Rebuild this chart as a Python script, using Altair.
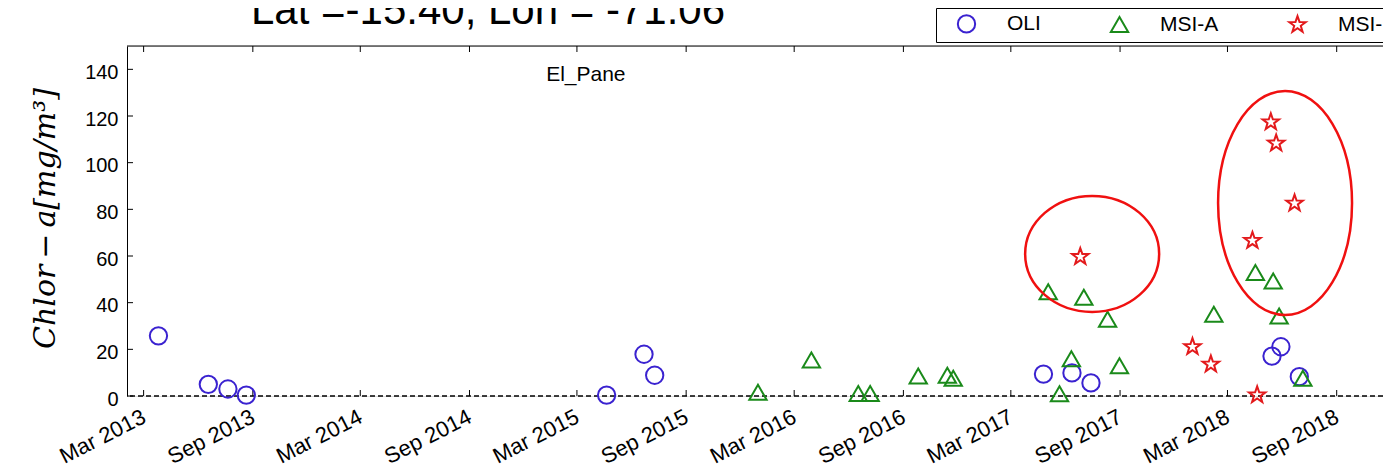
import math
import altair as alt
import pandas as pd

# ---------------- data ----------------
oli_dates = ["2013-03-26", "2013-06-18", "2013-07-21", "2013-08-21", "2015-04-20",
             "2015-06-22", "2015-07-10", "2017-04-25", "2017-06-12", "2017-07-14",
             "2018-05-15", "2018-05-30", "2018-06-30"]
oli_vals = [25.8, 5.0, 3.0, 0.4, 0.4, 17.9, 8.9, 9.4, 9.9, 5.6, 17.1, 21.1, 8.3]

msia_dates = ["2015-12-31", "2016-03-30", "2016-06-17", "2016-07-07", "2016-09-26",
              "2016-11-14", "2016-11-24", "2017-05-03", "2017-05-22", "2017-06-11",
              "2017-07-02", "2017-08-11", "2017-08-31", "2018-02-06", "2018-04-17",
              "2018-05-17", "2018-05-27", "2018-07-06"]
msia_vals = [1.6, 15.4, 1.1, 1.1, 8.6, 8.9, 7.6, 44.7, 1.0, 16.0, 42.3, 32.9, 13.0,
             35.0, 52.9, 49.3, 34.3, 7.6]

msib_dates = ["2017-06-26", "2018-01-01", "2018-02-01", "2018-04-12", "2018-04-20",
              "2018-05-13", "2018-05-22", "2018-06-22"]
msib_vals = [59.7, 21.1, 13.6, 66.6, 0.4, 117.4, 108.3, 82.6]

series_names = ["OLI", "MSI-A", "MSI-B"]
series_colors = ["#3a22d0", "#1a8a1a", "#e31a1c"]

x_tick_dates = ["2013-03-01", "2013-09-01", "2014-03-01", "2014-09-01", "2015-03-01",
                "2015-09-01", "2016-03-01", "2016-09-01", "2017-03-01", "2017-09-01",
                "2018-03-01", "2018-09-01"]
y_tick_vals = [0, 20, 40, 60, 80, 100, 120, 140]

site_label = ["El_Pane"]
site_label_date = ["2015-03-16"]
site_label_val = [137.6]

title_text = ["Lat =-15.40, Lon = -71.06"]

# highlighted clusters (red ellipses): centre date / value
ell1_date, ell1_val = ["2017-07-16"], [60.9]
ell2_date, ell2_val = ["2018-06-06"], [82.7]

# ---------------- shapes ----------------
pts = []
for k in range(10):
    r = 1.0 if k % 2 == 0 else 0.4
    a = math.radians(-90 + 36 * k)
    pts.append(f"{r * math.cos(a):.3f},{r * math.sin(a):.3f}")
star_path = "M" + " L".join(pts) + " Z"


def ellipse_path(rx, ry):
    return (f"M {-rx},0 A {rx} {ry} 0 1 0 {rx},0 "
            f"A {rx} {ry} 0 1 0 {-rx},0 Z")


# ---------------- tables ----------------
pts_df = pd.DataFrame({
    "date": oli_dates + msia_dates + msib_dates,
    "value": oli_vals + msia_vals + msib_vals,
    "sensor": ["OLI"] * len(oli_dates) + ["MSI-A"] * len(msia_dates)
              + ["MSI-B"] * len(msib_dates),
})
xt_df = pd.DataFrame({"date": x_tick_dates})
yt_df = pd.DataFrame({"value": y_tick_vals})
zero_df = pd.DataFrame({"value": [0]})
lab_df = pd.DataFrame({"date": site_label_date, "value": site_label_val, "txt": site_label})
title_df = pd.DataFrame({"txt": title_text})
e1_df = pd.DataFrame({"date": ell1_date, "value": ell1_val})
e2_df = pd.DataFrame({"date": ell2_date, "value": ell2_val})

W, H = 1256, 350
FONT = "Liberation Sans"

xscale = alt.Scale(type="utc",
                   domain=[alt.DateTime(year=2013, month=2, date=1, utc=True),
                           alt.DateTime(year=2018, month=11, date=18, utc=True)])
xaxis = alt.Axis(
    values=[alt.DateTime(year=int(d[:4]), month=int(d[5:7]), date=1, utc=True)
            for d in x_tick_dates],
    format="%b %Y", labelAngle=-27, labelAlign="right", labelBaseline="middle",
    labelFontSize=22, labelFont=FONT, labelColor="black", labelPadding=19,
    domain=False, ticks=False, grid=False, title=None)
X = alt.X("date:T", scale=xscale, axis=xaxis)

yscale = alt.Scale(domain=[0, 150], nice=False, zero=False)
yaxis = alt.Axis(
    values=y_tick_vals, labelFontSize=20, labelFont=FONT, labelColor="black",
    labelPadding=9, labelOffset=3, ticks=False, grid=False, domain=True,
    domainColor="black", domainWidth=1,
    title="Chlor\u2009−\u2009a[mg/m³]", titleFont="DejaVu Serif", titleFontStyle="italic",
    titleFontWeight="normal", titleFontSize=30, titleColor="black",
    titleX=-82, titleY=172, titleBaseline="middle", titleAlign="center", titleAngle=270)
Y = alt.Y("value:Q", scale=yscale, axis=yaxis)

legend = alt.Legend(
    orient="none", legendX=809, legendY=-38, direction="horizontal", title=None,
    strokeColor="black", fillColor="white", padding=5, labelFontSize=21,
    labelFont=FONT, labelColor="black", labelOffset=30, columnPadding=53,
    symbolSize=300, symbolStrokeWidth=2, symbolOffset=15, labelLimit=0)

points = alt.Chart(pts_df).mark_point(filled=False, strokeWidth=2, size=300, opacity=1).encode(
    x=X, y=Y,
    color=alt.Color("sensor:N", scale=alt.Scale(domain=series_names, range=series_colors),
                    legend=legend),
    shape=alt.Shape("sensor:N", scale=alt.Scale(domain=series_names,
                                                 range=["circle", "triangle-up", star_path]),
                    legend=legend),
)

zero_line = alt.Chart(zero_df).mark_rule(color="black", strokeDash=[5, 3], strokeWidth=1.3).encode(y=Y)
top_border = alt.Chart(zero_df).mark_rule(color="black", strokeWidth=1).encode(y=alt.value(0))
top_ticks = alt.Chart(xt_df).mark_rule(color="black", strokeWidth=1).encode(
    x=X, y=alt.value(0), y2=alt.value(6))
bot_ticks = alt.Chart(xt_df).mark_rule(color="black", strokeWidth=1).encode(
    x=X, y=alt.value(H), y2=alt.value(H - 6))
y_ticks = alt.Chart(yt_df).mark_rule(color="black", strokeWidth=1).encode(
    y=Y, x=alt.value(0), x2=alt.value(6))

site_text = alt.Chart(lab_df).mark_text(fontSize=21, font=FONT, color="black",
                                        align="center", baseline="middle").encode(
    x=X, y=Y, text="txt:N")

title_mark = alt.Chart(title_df).mark_text(fontSize=42, font=FONT, color="black",
                                           align="center", baseline="alphabetic").encode(
    x=alt.value(361), y=alt.value(-22), text="txt:N")

ell1 = alt.Chart(e1_df).mark_point(shape=ellipse_path(1.0, 0.866), size=134 * 134,
                                   filled=False, color="#f01010", strokeWidth=2.5,
                                   opacity=1).encode(x=X, y=Y)
ell2 = alt.Chart(e2_df).mark_point(shape=ellipse_path(0.598, 1.0), size=224 * 224,
                                   filled=False, color="#f01010", strokeWidth=2.5,
                                   opacity=1).encode(x=X, y=Y)

chart = alt.layer(
    zero_line, top_border, top_ticks, bot_ticks, y_ticks, site_text, title_mark,
    points, ell1, ell2
).properties(
    width=W, height=H,
    autosize=alt.AutoSizeParams(type="none"),
    padding={"left": 119, "top": 38, "right": 0, "bottom": 74},
).configure_view(stroke=None).configure(background="white")

chart.save("out.html", embed_options={"renderer": "svg", "actions": False})
